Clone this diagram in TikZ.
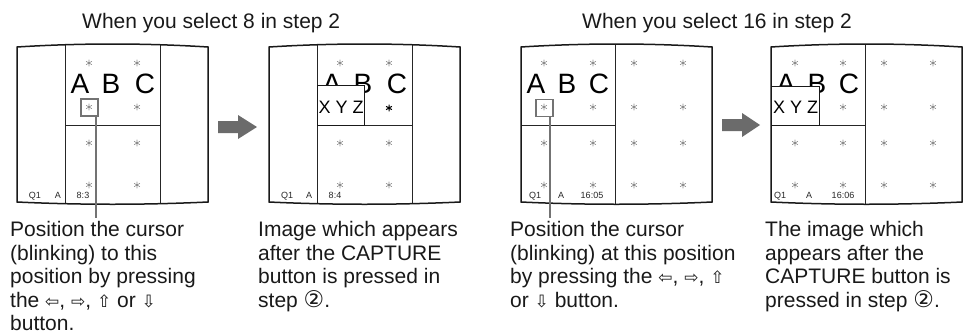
\documentclass[tikz,border=0pt]{standalone}
\usepackage{fontspec}
\setmainfont{Liberation Sans}
\newfontfamily\symfont{DejaVu Sans}
\newcommand\arsym[1]{{\symfont\fontsize{17}{17}\selectfont #1}}
\newcommand\circtwo{{\symfont\fontsize{23}{23}\selectfont ②}}
\newcommand\stmark[2][star]{\draw[#1] (#2) +(0,-3.3) -- +(0,3.3) +(-2.9,-1.65) -- +(2.9,1.65) +(-2.9,1.65) -- +(2.9,-1.65);}
\tikzset{
 scrpath/.style={insert path={(0,47) .. controls (64,43) and (127,43) .. (191,47) -- (191,202) .. controls (127,205) and (64,205) .. (0,202) -- cycle}},
 scr/.style={draw=black!90, line width=1.5pt},
 div/.style={draw=black!85, line width=1pt},
 star/.style={draw=black!45, line width=0.6pt},
 starbold/.style={draw=black, line width=1pt},
 big/.style={font=\fontsize{28}{28}\selectfont, inner sep=0pt, anchor=base},
 xyzbox/.style={draw=black!90, line width=1.2pt, fill=white, inner sep=0pt, anchor=north west, font=\fontsize{18}{18}\selectfont, text depth=0pt},
 lbl/.style={font=\fontsize{9}{9}\selectfont, inner sep=0pt, anchor=base, text=black!85},
 cur/.style={draw=black!55, line width=1.8pt, minimum size=17pt, inner sep=0pt},
 lead/.style={draw=black!55, line width=1.8pt},
 captext/.style={font=\fontsize{21}{23.5}\selectfont, inner sep=0pt, anchor=north west, align=left, text=black!90},
 ttl/.style={font=\fontsize{21}{21}\selectfont, inner sep=0pt, anchor=base west, text=black!90},
 garrow/.style={fill=black!58},
}
\begin{document}
\begin{tikzpicture}[x=1pt,y=-1pt]
\useasboundingbox (0,0) rectangle (964,335);

% titles
\node[ttl] (t1) at (82,28) {When you select 8 in step 2};
\node[ttl] (t2) at (582,28) {When you select 16 in step 2};

% ---------- screen 1 ----------
\begin{scope}[shift={(17,0)}]
 \begin{scope}
  \clip[scrpath];
  \draw[div] (48,30) -- (48,215);
  \draw[div] (143,30) -- (143,215);
  \draw[div] (48,125) -- (143,125);
 \end{scope}
 \draw[scr,scrpath];
 \foreach \x in {72,120}{\foreach \y in {63,107,143,185}{\stmark{\x,\y}}}
 \node[big] (s1A) at (63,93) {A};
 \node[big] (s1B) at (94,93) {B};
 \node[big] (s1C) at (128,93) {C};
 \node[cur] (s1cur) at (72.5,107.5) {};
 \coordinate (s1end) at (79,218);
 \draw[lead] (s1cur.south -| s1end) -- (s1end);
 \node[lbl] (s1q) at (18,198) {Q1};
 \node[lbl] (s1a) at (41,198) {A};
 \node[lbl] (s1t) at (66,198) {8:3};
\end{scope}

% ---------- screen 2 ----------
\begin{scope}[shift={(269,0)}]
 \begin{scope}
  \clip[scrpath];
  \draw[div] (48,30) -- (48,215);
  \draw[div] (143,30) -- (143,215);
  \draw[div] (48,125) -- (143,125);
 \end{scope}
 \draw[scr,scrpath];
 \foreach \x in {71,120}{\foreach \y in {63,143,185}{\stmark{\x,\y}}}
 \stmark[starbold]{120,108}
 \node[big] (s2A) at (63,93) {A};
 \node[big] (s2B) at (94,93) {B};
 \node[big] (s2C) at (128,93) {C};
 \node[xyzbox, minimum width=47pt, minimum height=40pt, text height=16pt] (s2xyz) at (48,85) {X Y Z};
 \node[lbl] (s2q) at (18,198) {Q1};
 \node[lbl] (s2a) at (40,198) {A};
 \node[lbl] (s2t) at (66,198) {8:4};
\end{scope}

% ---------- screen 3 ----------
\begin{scope}[shift={(521,0)}]
 \begin{scope}
  \clip[scrpath];
  \draw[div] (94.5,30) -- (94.5,215);
  \draw[div] (0,125) -- (94.5,125);
 \end{scope}
 \draw[scr,scrpath];
 \foreach \x in {23,72,113,162}{\foreach \y in {63,107,143,185}{\stmark{\x,\y}}}
 \node[big] (s3A) at (15,93) {A};
 \node[big] (s3B) at (46,93) {B};
 \node[big] (s3C) at (78,93) {C};
 \node[cur] (s3cur) at (23.5,108) {};
 \coordinate (s3end) at (29,218);
 \draw[lead] (s3cur.south -| s3end) -- (s3end);
 \node[lbl] (s3q) at (14,198) {Q1};
 \node[lbl] (s3a) at (40,198) {A};
 \node[lbl] (s3t) at (71,198) {16:05};
\end{scope}

% ---------- screen 4 ----------
\begin{scope}[shift={(771,0)}]
 \begin{scope}
  \clip[scrpath];
  \draw[div] (94.5,30) -- (94.5,215);
  \draw[div] (0,125) -- (94.5,125);
 \end{scope}
 \draw[scr,scrpath];
 \foreach \x in {24,72,113,162}{\foreach \y in {63,107,143,185}{\stmark{\x,\y}}}
 \node[big] (s4A) at (15,93) {A};
 \node[big] (s4B) at (46,93) {B};
 \node[big] (s4C) at (78,93) {C};
 \node[xyzbox, minimum width=48pt, minimum height=39pt, text height=15pt] (s4xyz) at (0,86) {X Y Z};
 \node[lbl] (s4q) at (9,198) {Q1};
 \node[lbl] (s4a) at (38,198) {A};
 \node[lbl] (s4t) at (72,198) {16:06};
\end{scope}

% arrows
\fill[garrow] (218,121) -- (238,121) -- (238,115) -- (257,127) -- (238,139) -- (238,133) -- (218,133) -- cycle;
\fill[garrow] (722,119) -- (742,119) -- (742,113) -- (760,125) -- (742,137) -- (742,131) -- (722,131) -- cycle;

% captions
\node[captext] (c1) at (10,220.5) {\rule{0pt}{16pt}Position the cursor\\(blinking) to this\\position by pressing\\the \arsym{⇦}, \arsym{⇨}, \arsym{⇧} or \arsym{⇩}\\button.};
\node[captext] (c2) at (258,220.5) {\rule{0pt}{16pt}Image which appears\\after the CAPTURE\\button is pressed in\\step \circtwo.};
\node[captext] (c3) at (510,220.5) {\rule{0pt}{16pt}Position the cursor\\(blinking) at this position\\by pressing the \arsym{⇦}, \arsym{⇨}, \arsym{⇧}\\or \arsym{⇩} button.};
\node[captext] (c4) at (765,220.5) {\rule{0pt}{16pt}The image which\\appears after the\\CAPTURE button is\\pressed in step \circtwo.};
\end{tikzpicture}
\end{document}
